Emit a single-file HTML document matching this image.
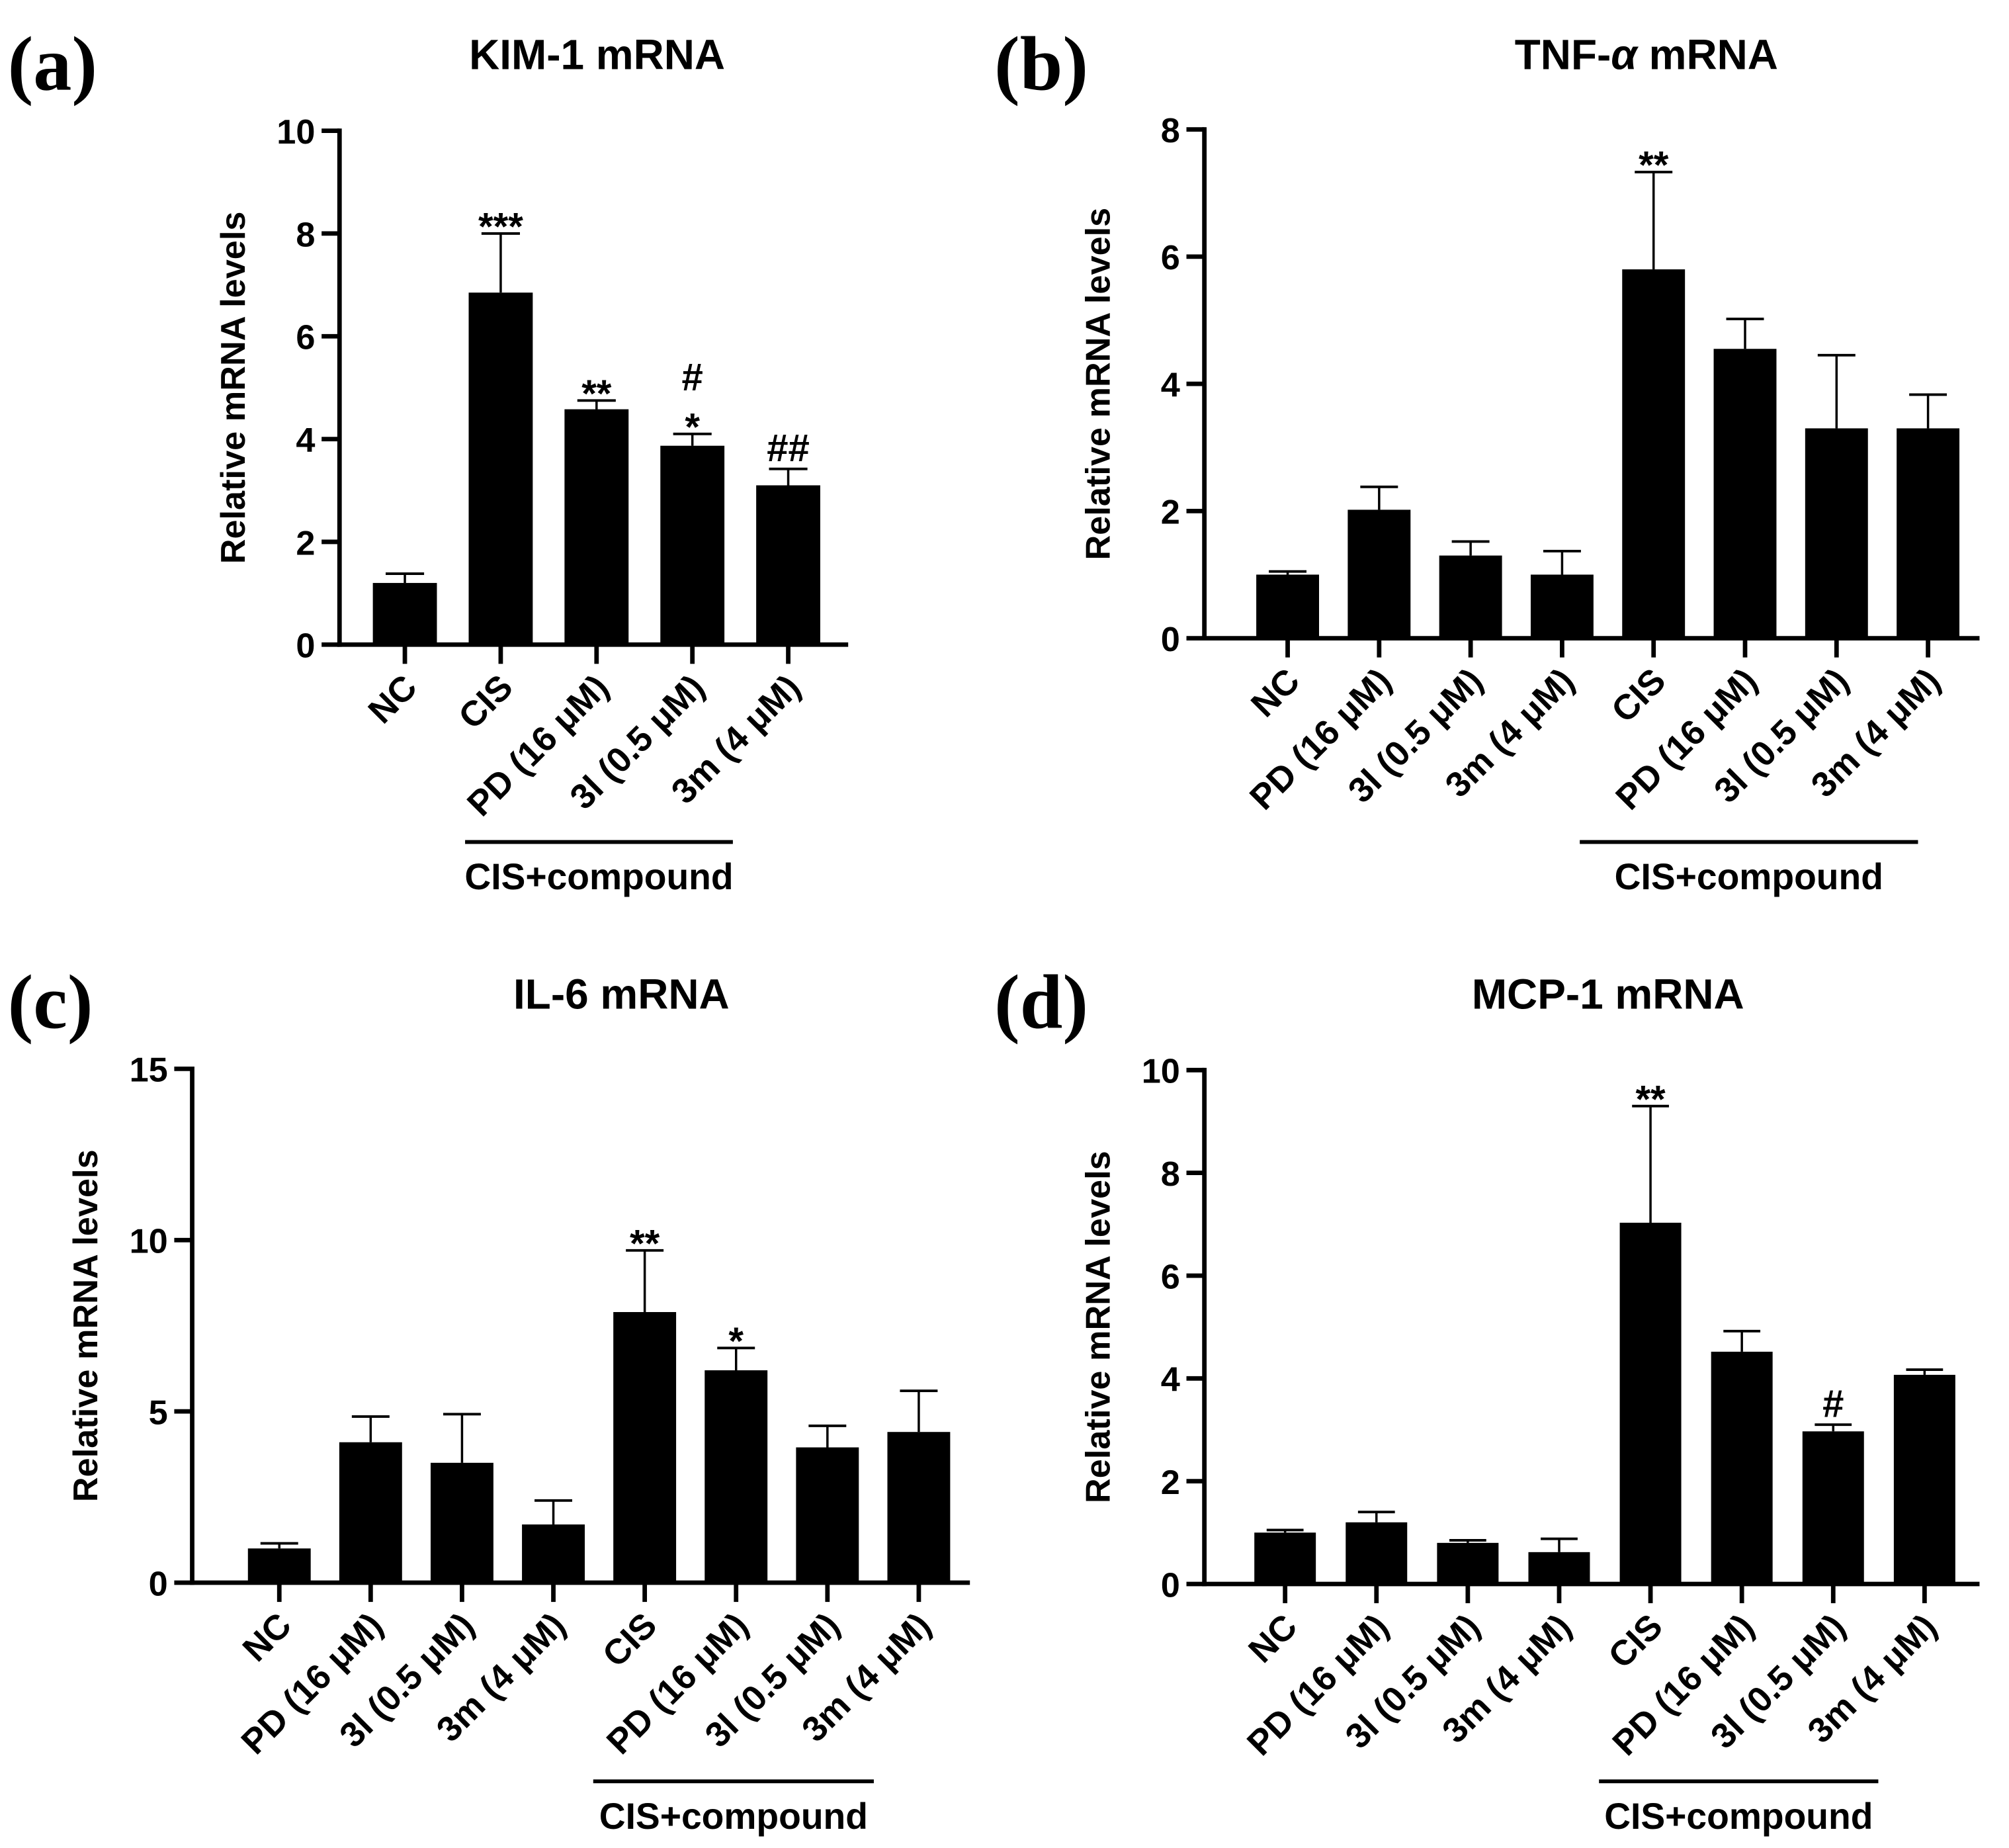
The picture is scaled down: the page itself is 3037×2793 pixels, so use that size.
<!DOCTYPE html>
<html><head><meta charset="utf-8">
<style>
html,body{margin:0;padding:0;background:#fff;}
svg{display:block;}
text{font-family:"Liberation Sans",Arial,sans-serif;font-weight:bold;fill:#000;}
.pl{font-family:"Liberation Serif","Times New Roman",serif;font-size:60px;}
</style></head>
<body>
<svg id="fig" width="3037" height="2793" viewBox="0 0 1568 1442" xmlns="http://www.w3.org/2000/svg"></svg>
<script>
// Panel (a) KIM-1
const catsA = ["NC","CIS","PD (16 μM)","3l (0.5 μM)","3m (4 μM)"];
const valsA = [1.2,6.85,4.58,3.87,3.1];
const errA = [0.18,1.15,0.17,0.23,0.32];
const sigA = ["","***","**","#\n*","##"];
const ticksA = [0,2,4,6,8,10];
// Panel (b) TNF-a
const catsB = ["NC","PD (16 μM)","3l (0.5 μM)","3m (4 μM)","CIS","PD (16 μM)","3l (0.5 μM)","3m (4 μM)"];
const valsB = [1.0,2.02,1.3,1.0,5.8,4.55,3.3,3.3];
const errB = [0.05,0.36,0.22,0.37,1.53,0.47,1.15,0.53];
const sigB = ["","","","","**","","",""];
const ticksB = [0,2,4,6,8];
// Panel (c) IL-6
const catsC = catsB.slice();
const valsC = [1.0,4.1,3.5,1.7,7.9,6.2,3.95,4.4];
const errC = [0.15,0.75,1.42,0.7,1.8,0.65,0.63,1.2];
const sigC = ["","","","","**","*","",""];
const ticksC = [0,5,10,15];
// Panel (d) MCP-1
const catsD = catsB.slice();
const valsD = [1.0,1.2,0.8,0.62,7.03,4.52,2.97,4.07];
const errD = [0.05,0.2,0.05,0.26,2.27,0.4,0.13,0.1];
const sigD = ["","","","","**","","#",""];
const ticksD = [0,2,4,6,8,10];

const NS="http://www.w3.org/2000/svg";
const svg=document.getElementById('fig');
function mk(tag,attrs,parent){const e=document.createElementNS(NS,tag);for(const k in attrs)e.setAttribute(k,attrs[k]);(parent||svg).appendChild(e);return e;}

function panel(p){
  const g=mk('g',{});
  
  
  const y=v=>p.y0-(v/p.max)*(p.y0-p.yTop);
  const x=i=>p.x1+i*p.step;
  const L=mk('text',{x:p.lx,y:p.ly,class:'pl'},g);L.textContent='('+p.id+')';
  
  
  const T=mk('text',{x:p.tx,y:p.ty,'text-anchor':'middle','font-size':33},g);
  
  
  if(p.title.indexOf('α')>=0){T.textContent='TNF-';const ts=mk('tspan',{'font-style':'italic'},T);ts.textContent='α';const t2=mk('tspan',{},T);t2.textContent=' mRNA';}
  else T.textContent=p.title;
  p.vals.forEach((v,i)=>{
    const cx=x(i);
    const top=y(v+p.err[i]);
    const el=mk('line',{x1:cx,x2:cx,y1:y(v),y2:top,stroke:'#000','stroke-width':1.8},g);
    
    
    const cap=mk('line',{x1:cx-p.bw*0.3,x2:cx+p.bw*0.3,y1:top,y2:top,stroke:'#000','stroke-width':2},g);
    
    
    const r=mk('rect',{x:cx-p.bw/2,y:y(v),width:p.bw,height:p.y0-y(v),fill:'#000'},g);
    
    
    const tk=mk('line',{x1:cx,x2:cx,y1:p.y0,y2:p.y0+15,stroke:'#000','stroke-width':3.5},g);
    
    
    const lb=mk('text',{'text-anchor':'end','font-size':27.5,transform:`translate(${cx+11},${p.y0+35}) rotate(-45)`},g);
    lb.textContent=p.cats[i];
    
    
    if(p.sig[i]){
      const lines=p.sig[i].split('\n');
      lines.forEach((s,k)=>{
        const st=mk('text',{x:cx,y:top-6-(lines.length-1-k)*28+(s.indexOf('*')>=0?11:0),'text-anchor':'middle','font-size':30},g);
        st.textContent=s;
        
        
      });
    }
  });
  const ya=mk('line',{x1:p.ax,x2:p.ax,y1:p.yTop-1.75,y2:p.y0+1.75,stroke:'#000','stroke-width':3.5},g);
  
  
  const xa=mk('line',{x1:p.ax-1.75,x2:p.xEnd,y1:p.y0,y2:p.y0,stroke:'#000','stroke-width':3.5},g);
  
  
  p.ticks.forEach(t=>{
    const tl=mk('line',{x1:p.ax-14,x2:p.ax,y1:y(t),y2:y(t),stroke:'#000','stroke-width':3.5},g);
    
    
    const tt=mk('text',{x:p.ax-19,y:y(t)+10,'text-anchor':'end','font-size':27},g);
    tt.textContent=t;
    
    
  });
  const yl=mk('text',{'text-anchor':'middle','font-size':27,transform:`translate(${p.ax-74},${(p.yTop+p.y0)/2}) rotate(-90)`},g);
  yl.textContent='Relative mRNA levels';
  
  
  const gl=mk('line',{x1:p.gx1,x2:p.gx2,y1:p.gy,y2:p.gy,stroke:'#000','stroke-width':3},g);
  
  
  const gt=mk('text',{x:(p.gx1+p.gx2)/2,y:p.gy+37,'text-anchor':'middle','font-size':28.5},g);
  gt.textContent='CIS+compound';
  
  
}

panel({id:'a',title:'KIM-1 mRNA',cats:catsA,vals:valsA,err:errA,sig:sigA,ticks:ticksA,max:10,
  ax:265,yTop:102,y0:503,x1:316,step:74.8,bw:50,xEnd:662,lx:6,ly:70,tx:466,ty:54,gx1:363,gx2:572,gy:657});
panel({id:'b',title:'TNF-α mRNA',cats:catsB,vals:valsB,err:errB,sig:sigB,ticks:ticksB,max:8,
  ax:940,yTop:101,y0:498,x1:1005,step:71.4,bw:49,xEnd:1545,lx:776,ly:70,tx:1285,ty:54,gx1:1233,gx2:1497,gy:657});
panel({id:'c',title:'IL-6 mRNA',cats:catsC,vals:valsC,err:errC,sig:sigC,ticks:ticksC,max:15,
  ax:150,yTop:834,y0:1235,x1:218,step:71.3,bw:49,xEnd:757,lx:6,ly:802,tx:485,ty:787,gx1:463,gx2:682,gy:1390});
panel({id:'d',title:'MCP-1 mRNA',cats:catsD,vals:valsD,err:errD,sig:sigD,ticks:ticksD,max:10,
  ax:940,yTop:835,y0:1236,x1:1003,step:71.3,bw:48,xEnd:1545,lx:776,ly:802,tx:1255,ty:787,gx1:1248,gx2:1466,gy:1390});
</script>
</body></html>
